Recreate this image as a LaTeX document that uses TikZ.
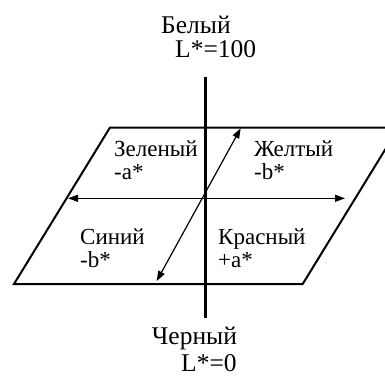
\documentclass[tikz,border=0pt]{standalone}
\usepackage{fontspec}
\setmainfont{Liberation Serif}
\usetikzlibrary{arrows.meta}
\tikzset{plane/.style={draw=black,line width=2pt},axis/.style={draw=black,line width=3pt},arr/.style={{Triangle[length=10pt,width=7pt]}-{Triangle[length=10pt,width=7pt]},line width=1.2pt},lbl/.style={font=\fontsize{23}{23}\selectfont,inner sep=0pt,align=left,anchor=north west},pole/.style={font=\fontsize{25.5}{26}\selectfont,inner sep=0pt,anchor=base west}}

\begin{document}
\begin{tikzpicture}[x=1pt,y=-1pt]
\useasboundingbox (0,0) rectangle (385,376);
\clip (0,0) rectangle (385,376);
\coordinate (tl) at (110,127.5);
\coordinate (tr) at (398.7,127.5);
\coordinate (br) at (302.7,284);
\coordinate (bl) at (14,284);
\draw[plane] (tl)--(tr)--(br)--(bl)--cycle;
\coordinate (ltop) at (205.7,76.7);
\coordinate (lbot) at (205.7,318.3);
\draw[axis] (ltop)--(lbot);
\coordinate (aleft) at (68,198.3);
\coordinate (aright) at (345,198.3);
\draw[arr] (aleft)--(aright);
\coordinate (bnear) at (156.7,281);
\coordinate (bfar) at (240.7,128.3);
\draw[arr] (bnear)--(bfar);
\node[pole] (white) at (161,33) {Белый};
\node[pole] (whiteL) at (175,57) {L*=100};
\node[lbl] (green) at (114,141) {Зеленый\\-a*};
\node[lbl] (yellow) at (254,141) {Желтый\\-b*};
\node[lbl] (blue) at (80,228.5) {Синий\\-b*};
\node[lbl] (red) at (218,228.5) {Красный\\+a*};
\node[pole] (black) at (151.7,344) {Черный};
\node[pole] (blackL) at (181,371.5) {L*=0};
\end{tikzpicture}
\end{document}
